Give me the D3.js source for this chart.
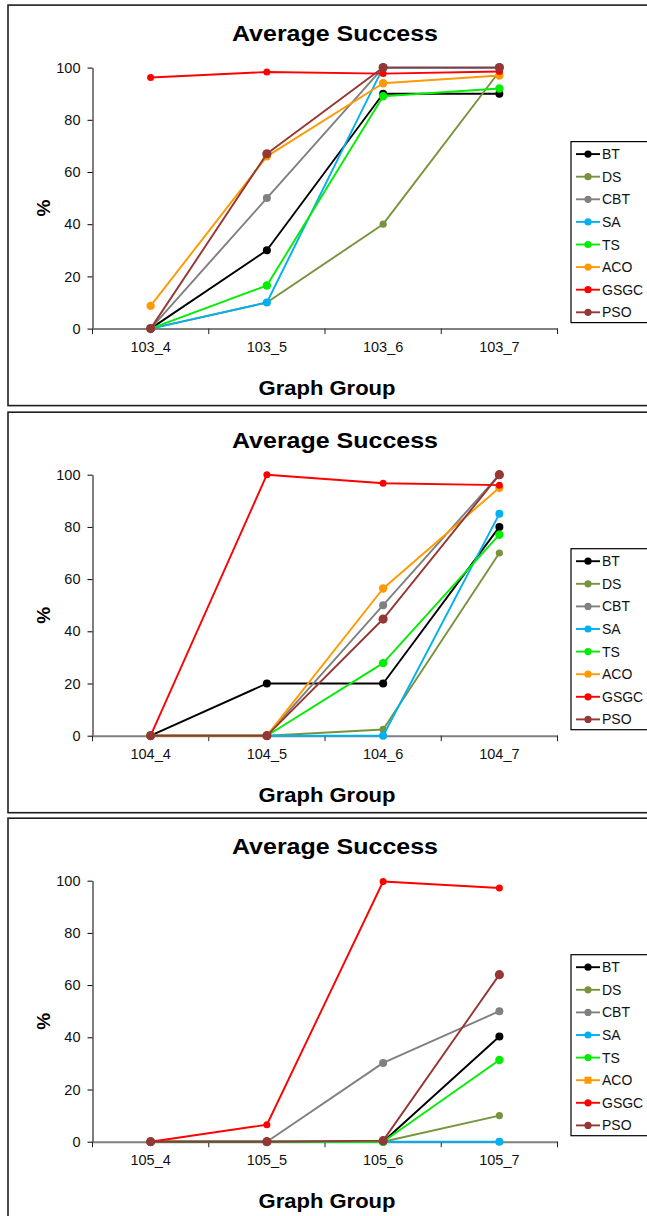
<!DOCTYPE html>
<html><head><meta charset="utf-8">
<script src="https://cdnjs.cloudflare.com/ajax/libs/d3/7.8.5/d3.min.js"></script>
<style>
html,body{margin:0;padding:0;background:#fff;}
svg text{font-family:"Liberation Sans",Arial,sans-serif;}
</style></head>
<body>
<script>
// ---------- data ----------
const seriesNames = ["BT","DS","CBT","SA","TS","ACO","GSGC","PSO"];
const yTicks = [0,20,40,60,80,100];
const chartTitle = "Average Success";
const xTitle = "Graph Group";
const yTitle = "%";

const groups103 = ["103_4","103_5","103_6","103_7"];
const success103 = [
  [0, 30, 90, 90],      // BT
  [0, 10, 40, 98.5],    // DS
  [0, 50, 100, 100],    // CBT
  [0, 10, 100, 100],    // SA
  [0, 16.5, 89, 92],    // TS
  [8.7, 66, 94, 97],    // ACO
  [96.2, 98.3, 97.7, 98.5], // GSGC
  [0, 67, 100, 100]     // PSO
];

const groups104 = ["104_4","104_5","104_6","104_7"];
const success104 = [
  [0, 20, 20, 80],      // BT
  [0, 0, 2.4, 70],      // DS
  [0, 0, 50, 100],      // CBT
  [0, 0, 0, 85],        // SA
  [0, 0, 27.8, 77],     // TS
  [0, 0, 56.4, 95],     // ACO
  [0, 100, 96.7, 96],   // GSGC
  [0, 0, 44.7, 100]     // PSO
];

const groups105 = ["105_4","105_5","105_6","105_7"];
const success105 = [
  [0, 0, 0, 40.3],      // BT
  [0, 0, 0, 10],        // DS
  [0, 0, 30.2, 50],     // CBT
  [0, 0, 0, 0],         // SA
  [0, 0, 0, 31.3],      // TS
  [null, null, null, null], // ACO (no data)
  [0, 6.5, 99.7, 97.2], // GSGC
  [0, 0, 0.4, 64]       // PSO
];

// ---------- styles ----------
const colors = ["#000000","#77933C","#808080","#00B0F0","#00EE00","#FF9900","#FF0000","#953735"];
const markerR = [4, 3.6, 4, 4, 4.2, 4.2, 3.5, 4.6];

const panels = [
  {groups: groups103, values: success103, y0: 328.6, squareACO: false},
  {groups: groups104, values: success104, y0: 735.7, squareACO: false},
  {groups: groups105, values: success105, y0: 1141.7, squareACO: true}
];

const W = 647, H = 1216;
const svg = d3.select("body").append("svg").attr("width", W).attr("height", H);

panels.forEach(p => {
  const g = svg.append("g");
  const y0 = p.y0;
  // panel border
  g.append("rect").attr("x", 8).attr("y", y0 - 323.5).attr("width", 720).attr("height", 400.5)
    .attr("fill", "#fff").attr("stroke", "#1e1e1e").attr("stroke-width", 1.6);

  const x = d3.scaleBand().domain(p.groups).range([92.5, 557.5]);
  const y = d3.scaleLinear().domain([0, 100]).range([y0, y0 - 261]);
  const cx = d => x(d) + x.bandwidth() / 2;

  // title
  g.append("text").attr("x", 335).attr("y", y0 - 287.5).attr("text-anchor", "middle")
    .attr("font-size", 22.5).attr("font-weight", "bold").attr("fill", "#000")
    .attr("textLength", 206).attr("lengthAdjust", "spacingAndGlyphs").text(chartTitle);

  // y axis
  const ya = g.append("g").attr("transform", "translate(92.5,0)")
    .call(d3.axisLeft(y).tickValues(yTicks).tickSize(5).tickPadding(7).tickSizeOuter(0));
  ya.select(".domain").attr("stroke", "#000").attr("stroke-width", 1);
  ya.selectAll(".tick line").attr("stroke", "#000");
  ya.selectAll(".tick text").attr("font-size", 14.5).attr("fill", "#111")
    .attr("font-family", "Liberation Sans, Arial, sans-serif");

  // x axis (labels centred in bands, ticks on band edges)
  const xa = g.append("g").attr("transform", `translate(0,${y0})`)
    .call(d3.axisBottom(x).tickSize(0).tickPadding(13).tickSizeOuter(0));
  xa.select(".domain").attr("stroke", "#808080").attr("stroke-width", 2);
  xa.selectAll(".tick text").attr("font-size", 14.5).attr("fill", "#111")
    .attr("font-family", "Liberation Sans, Arial, sans-serif");
  const edges = p.groups.map(d => x(d)).concat([x.range()[1]]);
  xa.selectAll(".edge").data(edges).join("line").attr("class", "edge")
    .attr("x1", d => d).attr("x2", d => d).attr("y1", 0).attr("y2", 5.5)
    .attr("stroke", "#222").attr("stroke-width", 1);

  // axis titles
  g.append("text").attr("x", 327).attr("y", y0 + 66.4).attr("text-anchor", "middle")
    .attr("font-size", 20.5).attr("font-weight", "bold")
    .attr("textLength", 137).attr("lengthAdjust", "spacingAndGlyphs").text(xTitle);
  g.append("text").attr("transform", `translate(50,${y0 - 120.5}) rotate(-90)`)
    .attr("text-anchor", "middle").attr("font-size", 19).attr("font-weight", "bold").text(yTitle);

  // lines + markers
  const line = d3.line().defined(d => d != null).x((d, i) => cx(p.groups[i])).y(d => y(d));
  p.values.forEach((vals, si) => {
    const pts = vals.map((v, i) => ({v, i})).filter(d => d.v != null);
    g.append("path").attr("d", line(vals)).attr("fill", "none")
      .attr("stroke", colors[si]).attr("stroke-width", 1.9).attr("stroke-linejoin", "round");
    const isSq = p.squareACO && seriesNames[si] === "ACO";
    if (isSq) {
      g.selectAll(null).data(pts).join("rect")
        .attr("x", d => cx(p.groups[d.i]) - 3.5).attr("y", d => y(d.v) - 3.5)
        .attr("width", 7).attr("height", 7).attr("fill", colors[si]);
    } else {
      g.selectAll(null).data(pts).join("circle")
        .attr("cx", d => cx(p.groups[d.i])).attr("cy", d => y(d.v))
        .attr("r", markerR[si]).attr("fill", colors[si]);
    }
  });

  // legend
  const ly = y0 - 187;
  g.append("rect").attr("x", 571).attr("y", ly).attr("width", 100).attr("height", 181)
    .attr("fill", "#fff").attr("stroke", "#000").attr("stroke-width", 1.2);
  seriesNames.forEach((name, si) => {
    const yy = ly + 12.5 + si * 22.6;
    g.append("line").attr("x1", 576).attr("x2", 600).attr("y1", yy).attr("y2", yy)
      .attr("stroke", colors[si]).attr("stroke-width", 1.9);
    const isSq = p.squareACO && name === "ACO";
    if (isSq) {
      g.append("rect").attr("x", 588 - 3.5).attr("y", yy - 3.5).attr("width", 7).attr("height", 7)
        .attr("fill", colors[si]);
    } else {
      g.append("circle").attr("cx", 588).attr("cy", yy).attr("r", 3.6).attr("fill", colors[si]);
    }
    g.append("text").attr("x", 602).attr("y", yy + 5).attr("font-size", 14).attr("fill", "#111").text(name);
  });
});
</script>
</body></html>
